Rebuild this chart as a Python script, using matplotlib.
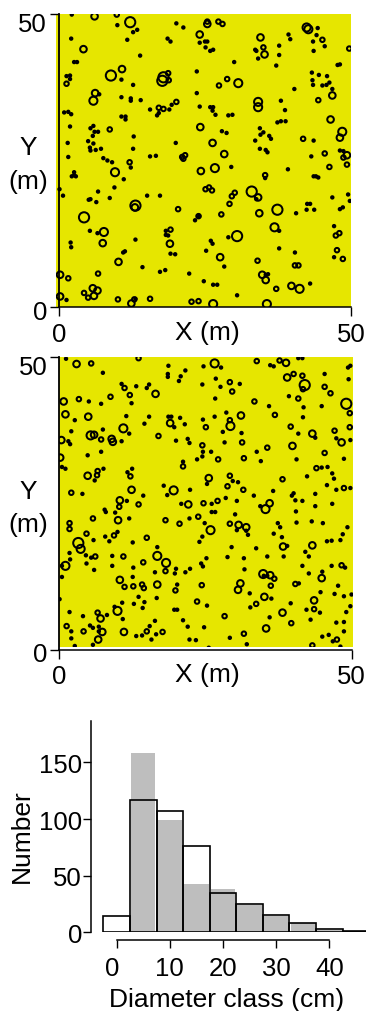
import numpy as np
import matplotlib
matplotlib.use('Agg')
import matplotlib.pyplot as plt
from matplotlib.transforms import ScaledTranslation

plt.rcParams['font.family'] = ['Liberation Sans', 'DejaVu Sans']

W, H = 366, 1012
YELLOW = '#E6E600'
GREY = '#BEBEBE'
FS = 18.5
FS_LABEL = 19

# stem diameter (cm) standing for each size class of the maps
dbh_dot, dbh_small, dbh_mid, dbh_big, dbh_large = 8, 15, 22, 27, 34

# upper map: tree positions (m)
p1_dot = [(2.2,49.9),(10.0,48.1),(20.1,48.4),(21.3,47.7),(2.1,45.8),(11.7,45.6),(12.7,46.9),(13.4,47.3),
 (18.6,45.8),(19.1,45.3),(13.9,42.9),(24.1,45.1),(25.0,45.3),(25.4,45.3),(25.1,44.3),(25.9,43.7),(26.4,43.9),
 (30.0,41.8),(33.8,43.7),(33.6,43.9),(34.1,42.4),(37.7,44.6),(37.7,43.0),(37.2,41.2),(39.3,46.5),(39.6,45.7),
 (44.3,47.6),(44.1,46.4),(43.5,45.3),(45.5,44.5),(43.6,43.7),(47.7,41.3),(48.1,41.4),(2.6,41.8),(3.1,41.8),
 (1.3,39.4),(1.9,39.5),(1.9,38.9),(23.6,40.2),(10.7,38.8),(12.7,37.9),(40.3,37.2),(43.3,40.0),(44.5,39.6),
 (45.9,39.4),(43.4,38.7),(43.5,37.9),(45.1,37.8),(45.8,37.9),(46.3,38.3),(46.8,37.2),(23.6,36.5),(10.7,35.8),
 (12.3,35.6),(12.3,35.2),(14.0,35.3),(6.9,36.3),(15.6,33.7),(19.3,34.5),(16.8,32.7),(17.1,33.1),(18.9,33.7),
 (24.1,34.2),(25.9,34.1),(26.4,34.1),(26.3,33.5),(26.8,32.8),(29.0,32.7),(29.7,32.8),(38.0,35.2),(38.7,33.6),
 (38.0,31.7),(37.4,31.5),(38.8,31.7),(0.9,33.2),(1.6,33.3),(2.1,32.9),(10.7,32.5),(11.4,32.5),(11.4,32.0),
 (1.9,30.8),(5.4,30.5),(5.9,30.9),(6.1,29.9),(6.7,29.9),(5.8,29.2),(34.4,30.5),(34.5,29.4),(35.0,29.8),
 (27.9,30.0),(28.7,29.7),(36.0,29.2),(36.3,28.7),(12.8,29.1),(1.5,28.0),(5.0,28.3),(5.9,27.9),(5.3,27.2),
 (5.4,26.7),(6.3,26.8),(7.2,27.0),(12.7,27.0),(20.0,28.0),(33.6,28.4),(43.6,28.4),(34.4,27.0),(35.4,26.8),
 (35.7,26.4),(1.6,25.6),(7.6,25.4),(8.3,25.0),(9.1,24.7),(15.6,25.7),(16.6,25.8),(43.2,25.7),(48.1,26.7),
 (48.7,26.6),(29.5,23.9),(12.3,23.8),(2.6,23.0),(39.2,23.5),(2.6,22.5),(2.2,22.3),(2.9,22.3),(11.1,21.8),
 (0.1,20.1),(0.7,19.0),(6.7,19.7),(9.5,20.4),(5.4,18.4),(5.1,18.3),(6.4,17.9),(8.7,18.6),(15.1,19.0),(17.3,19.0),
 (33.8,18.4),(46.8,18.7),(49.5,19.2),(49.8,18.1),(48.1,16.7),(48.6,17.0),(40.6,16.0),(43.0,17.6),(42.5,17.6),
 (42.4,16.6),(43.7,16.6),(24.0,15.5),(23.3,14.8),(5.3,13.0),(6.6,12.6),(18.3,13.0),(18.3,12.3),(18.7,12.2),
 (37.7,13.0),(13.1,11.5),(2.0,11.0),(2.1,10.2),(29.0,11.9),(26.0,11.3),(26.3,10.8),(11.3,9.5),(11.0,9.3),
 (25.2,9.6),(37.7,10.0),(40.4,9.3),(19.1,9.1),(19.9,9.0),(47.1,8.5),(14.3,6.8),(28.3,6.9),(17.3,6.0),(18.2,6.3),
 (22.3,5.7),(24.8,4.4),(26.4,3.8),(27.1,3.8),(43.0,4.0),(30.5,2.0),(1.3,1.2),(13.1,1.4),(47.1,13.8),(44.0,22.3),
 (43.6,22.3),(44.4,22.1),(35.4,5.5),(35.8,5.6),(35.3,22.0)]
p1_small = [(25.4,48.7),(9.9,49.9),(27.3,48.7),(28.0,48.3),(35.0,44.3),(45.1,45.6),(49.7,44.1),(18.7,39.9),
 (18.8,38.7),(28.8,38.9),(27.4,37.8),(1.3,38.1),(20.1,35.0),(17.1,34.0),(17.9,33.8),(44.4,35.3),(8.7,30.3),
 (41.8,28.7),(45.5,26.2),(49.3,24.3),(21.1,25.6),(21.6,25.9),(21.3,25.3),(12.1,24.7),(46.3,23.9),(48.7,25.5),
 (25.1,20.1),(25.7,20.4),(26.2,19.9),(30.1,19.5),(29.6,18.9),(29.2,17.6),(20.4,16.7),(27.8,15.8),(23.9,15.5),
 (19.1,13.2),(47.4,12.2),(48.0,12.6),(47.6,9.7),(48.6,8.2),(34.0,7.9),(40.4,7.1),(41.0,7.1),(1.6,4.9),(6.7,5.7),
 (37.2,3.1),(4.3,2.4),(5.0,1.6),(10.1,1.3),(12.9,1.3),(15.6,1.4),(22.7,0.9),(23.9,1.0),(35.3,22.5)]
p1_mid = [(4.2,44.0),(6.1,49.6),(25.4,48.3),(24.1,46.5),(34.5,46.0),(35.2,43.1),(10.8,40.6),(6.2,36.5),(46.8,36.1),
 (24.2,30.7),(46.5,32.0),(48.1,28.9),(26.3,28.0),(28.3,26.1),(49.3,25.9),(24.3,23.2),(34.1,18.7),(13.0,17.0),
 (34.3,16.0),(7.5,10.9),(19.0,10.8),(10.2,7.7),(27.6,8.5),(0.2,5.5),(34.8,5.5),(35.4,4.6),(39.8,3.6),(5.8,3.2),
 (6.6,2.8),(6.0,1.9),(0.2,1.8),(12.4,0.6)]
p1_big = [(42.4,47.7),(42.7,47.4),(30.7,38.2),(5.9,35.2),(34.1,34.1),(48.5,29.9),(26.7,23.7),(9.6,23.0),(7.7,12.8),
 (36.9,13.6),(26.4,0.5),(35.6,0.5),(41.2,3.1),(34.1,35.0)]
p1_large = [(12.2,48.6),(8.9,39.5),(17.9,39.2),(17.7,38.6),(33.0,19.7),(13.1,17.3),(37.4,16.6),(4.3,15.3),(30.5,12.1)]

# lower map: tree positions (m)
p2_dot = [(1.2,49.7),(7.5,47.3),(18.7,48.5),(18.6,47.1),(18.6,46.6),(21.6,47.7),(20.8,46.7),(20.5,45.9),(24.7,48.4),
 (27.7,48.2),(36.1,48.6),(36.7,48.4),(40.9,49.8),(41.6,49.8),(49.8,48.5),(49.4,48.2),(49.5,46.2),(45.4,47.1),
 (10.7,45.4),(13.2,45.0),(15.4,45.3),(15.0,44.7),(24.5,45.3),(26.8,46.3),(27.6,44.9),(30.9,45.4),(26.7,42.9),
 (5.1,42.4),(7.2,42.0),(12.4,42.1),(39.3,43.3),(41.8,41.4),(44.9,41.6),(35.9,41.6),(11.5,39.9),(15.4,39.8),
 (2.7,39.2),(14.6,38.6),(18.7,39.8),(19.2,39.8),(20.7,39.6),(21.5,38.5),(19.7,38.0),(24.6,39.3),(26.6,39.8),
 (28.6,40.5),(41.7,39.7),(2.1,37.3),(7.5,37.6),(28.0,37.2),(31.2,37.0),(40.9,36.9),(12.0,36.9),(10.7,35.6),
 (1.6,35.6),(1.9,35.1),(7.2,33.8),(4.9,33.2),(20.0,35.7),(22.0,36.0),(22.3,35.3),(28.3,35.4),(24.6,33.8),(24.5,33.0),
 (26.0,33.8),(23.6,32.5),(33.8,33.8),(34.5,32.2),(40.6,32.5),(47.4,36.1),(49.8,35.8),(43.8,36.2),(48.7,32.6),
 (21.2,32.1),(0.5,31.2),(1.1,30.9),(7.6,30.9),(12.5,30.9),(11.7,30.3),(6.1,28.9),(25.3,28.3),(29.7,28.8),(30.6,28.6),
 (42.4,29.6),(44.9,31.1),(45.9,31.2),(46.7,30.1),(47.0,29.2),(45.8,28.1),(47.4,27.3),(49.8,27.6),(17.9,28.0),
 (4.0,26.6),(22.4,27.3),(36.6,27.1),(14.4,26.3),(18.5,26.4),(33.3,26.3),(43.8,26.6),(40.1,26.7),(39.8,26.3),
 (11.6,25.4),(20.9,24.9),(26.1,24.9),(30.4,25.4),(28.5,25.9),(40.4,25.5),(41.6,25.4),(34.4,24.5),(43.8,24.5),
 (46.7,24.9),(7.8,23.9),(8.0,23.5),(9.6,23.4),(26.1,23.5),(26.7,23.5),(30.1,23.1),(40.5,23.6),(12.0,22.4),(22.3,22.4),
 (24.9,21.6),(40.6,21.7),(43.2,21.9),(45.1,21.6),(37.4,21.6),(37.8,20.9),(30.4,20.4),(32.0,20.3),(32.3,19.6),
 (49.3,20.9),(48.5,19.7),(48.1,18.7),(46.6,18.6),(45.8,18.5),(36.7,19.8),(38.1,19.2),(7.9,19.3),(10.0,20.1),
 (8.6,18.5),(5.9,18.7),(24.5,19.3),(24.0,18.4),(12.6,18.3),(29.5,17.5),(33.7,17.3),(39.0,17.7),(16.8,17.5),
 (42.1,16.7),(42.7,15.9),(38.4,15.9),(35.6,15.9),(1.8,16.5),(4.6,16.1),(5.5,15.7),(9.1,16.0),(28.8,15.8),(31.6,15.6),
 (25.2,15.6),(1.9,15.4),(4.7,14.7),(9.1,14.3),(6.0,13.6),(24.3,14.7),(24.6,14.2),(22.4,13.8),(21.6,13.2),(20.0,13.8),
 (19.8,13.0),(16.4,13.2),(12.7,14.0),(12.6,12.4),(31.7,13.7),(35.0,12.6),(35.6,12.6),(41.6,14.3),(42.7,13.0),
 (45.0,13.3),(46.6,14.3),(48.9,14.0),(41.0,11.3),(20.2,11.1),(47.7,10.9),(32.6,9.6),(36.3,8.7),(44.7,9.8),(47.1,9.5),
 (48.7,9.1),(50.0,9.4),(0.1,8.6),(16.7,8.8),(13.6,9.0),(14.6,8.1),(12.8,7.8),(10.8,8.0),(14.3,7.1),(25.3,7.5),(32.7,7.2),
 (39.6,7.9),(49.8,7.4),(42.3,6.8),(44.6,6.3),(49.1,6.4),(1.8,6.4),(4.1,5.7),(9.5,7.3),(19.7,6.8),(20.2,6.8),(8.2,5.9),
 (36.0,5.5),(10.9,5.2),(21.2,5.0),(16.4,4.9),(43.0,5.1),(47.4,4.6),(48.7,4.7),(48.7,3.1),(24.8,3.8),(22.0,3.9),(5.3,4.1),
 (5.8,3.7),(6.8,3.9),(6.8,3.1),(15.5,4.0),(2.1,3.1),(13.2,2.3),(14.2,2.4),(16.6,2.6),(15.8,1.7),(2.1,1.9),(2.7,0.6),
 (5.8,0.8),(22.3,1.7),(23.4,1.6),(29.2,2.0),(32.1,0.9),(45.0,2.2),(46.1,2.5),(46.8,1.4),(48.1,0.5),(25.6,0.3),
 (0.5,14.3),(0.5,12.4)]
p2_small = [(5.5,48.9),(13.6,49.8),(33.8,49.3),(37.7,49.4),(40.1,47.1),(41.6,46.8),(29.2,45.7),(29.6,44.1),(11.2,44.7),
 (3.4,42.8),(8.8,43.2),(12.1,43.5),(33.4,42.4),(40.9,42.9),(41.7,44.5),(45.4,44.9),(46.4,43.8),(36.9,40.1),(49.7,40.4),
 (25.1,38.0),(39.6,38.1),(47.1,37.4),(49.7,38.0),(17.0,36.5),(24.5,34.9),(31.3,35.4),(35.6,34.5),(27.2,32.5),(31.6,32.7),
 (45.4,33.6),(6.6,30.5),(6.5,29.8),(12.2,29.6),(21.2,31.3),(44.0,31.0),(29.2,29.7),(38.2,29.1),(28.8,27.9),(31.5,27.3),
 (48.7,27.6),(2.1,26.8),(27.1,25.4),(24.7,25.0),(13.6,24.8),(10.3,24.4),(23.8,22.7),(5.8,22.4),(18.2,22.1),(29.2,39.2),
 (7.2,35.9),(1.8,21.6),(1.8,20.6),(20.6,21.5),(4.7,19.8),(9.4,19.5),(15.0,19.1),(6.2,15.9),(11.0,15.9),(14.4,14.9),
 (18.2,13.4),(11.2,10.7),(12.7,10.8),(14.5,10.5),(14.2,11.1),(19.9,10.1),(24.4,11.0),(23.6,8.2),(36.2,10.9),(36.8,12.1),
 (40.4,11.2),(48.3,14.4),(28.3,5.7),(43.6,6.9),(33.7,7.8),(39.7,4.5),(6.6,6.3),(1.3,4.0),(4.2,3.1),(15.0,3.1),(17.7,3.0),
 (31.6,2.7),(43.3,0.7),(47.5,1.7),(29.2,21.5)]
p2_mid = [(3.0,48.8),(0.8,42.4),(1.1,40.2),(5.0,39.8),(31.1,40.0),(19.0,38.7),(6.0,36.7),(9.0,36.0),(9.2,35.5),(0.4,35.8),
 (0.2,32.8),(43.3,36.9),(48.3,35.4),(39.9,34.8),(16.5,43.7),(38.8,49.0),(39.0,46.5),(25.6,29.3),(4.9,29.7),(12.4,27.3),
 (10.4,25.5),(22.1,24.8),(36.0,25.0),(10.1,22.1),(16.8,11.1),(31.0,11.3),(30.6,10.2),(35.1,9.0),(38.2,6.3),(43.6,8.4),
 (11.1,3.0),(7.4,3.0),(6.7,1.7),(7.1,5.3),(35.4,3.6),(44.9,12.2),(38.3,17.6),(43.3,17.8),(32.0,20.9),(30.7,21.3),(36.1,12.7),
 (10.4,11.9)]
p2_big = [(26.6,48.9),(11.0,37.8),(5.4,36.6),(29.3,38.2),(19.6,27.2),(35.3,24.0),(25.9,20.4),(3.7,17.2),(16.8,16.0),(18.3,14.8),
 (1.1,14.3),(10.0,6.6),(34.9,12.9)]
p2_large = [(42.0,45.2),(49.1,42.0),(3.3,18.2)]

map_ticks = [0, 50]

# histogram
class_mid = [0, 5, 10, 15, 20, 25, 30, 35, 40, 45]
number_outline = [14, 117, 107, 76, 35, 25, 15, 8, 3, 1]
class_grey = [5, 10, 15, 20, 25, 30, 35, 40]
number_grey = [158, 99, 43, 38, 24, 14, 8, 2]
hist_xticks = [0, 10, 20, 30, 40]
hist_yticks = [0, 50, 100, 150]


def rect(left, top, right, bottom):
    return [left / W, 1 - bottom / H, (right - left) / W, (bottom - top) / H]


def px_text(x, y, s):
    fig.text(x / W, 1 - y / H, s, ha='center', va='center', fontsize=FS_LABEL)


def shift(label, dx, dy):
    # nudge a tick label by some pixels
    label.set_transform(label.get_transform() + ScaledTranslation(dx / 100, -dy / 100, fig.dpi_scale_trans))


def draw_map(ax, classes, xlim):
    ax.set_facecolor(YELLOW)
    for pts, dbh in classes:
        xy = np.array(pts)
        # marker size scales with the stem diameter
        d_pt = 0.3 * dbh * 72 / 100
        ax.scatter(xy[:, 0], xy[:, 1], s=d_pt ** 2, facecolors='none', edgecolors='black', linewidths=1.45, zorder=2)
    ax.set_xlim(*xlim)
    ax.set_ylim(0, 50)
    for s in ['top', 'right']:
        ax.spines[s].set_visible(False)
    ax.spines['bottom'].set_bounds(0, 50)
    ax.spines['left'].set_position(('data', 0))
    ax.spines['left'].set_linewidth(1.3)
    ax.spines['bottom'].set_linewidth(1.1)
    ax.spines['left'].set_zorder(5)
    ax.spines['bottom'].set_zorder(5)
    ax.set_xticks(map_ticks)
    ax.set_yticks(map_ticks)
    ax.tick_params(length=6.5, width=1.0, labelsize=FS, pad=2)
    ax.tick_params(axis='x', pad=4)
    ylabels = ax.yaxis.get_ticklabels()
    ylabels[1].set_va('top')
    shift(ylabels[1], 0, -1.5)
    shift(ylabels[0], 0, 2.5)


fig = plt.figure(figsize=(W / 100, H / 100), dpi=100)

ax1 = fig.add_axes(rect(56, 15, 351.3, 308))
draw_map(ax1, [(p1_dot, dbh_dot), (p1_small, dbh_small), (p1_mid, dbh_mid), (p1_big, dbh_big), (p1_large, dbh_large)], (-0.5, 50.05))
px_text(28, 148, 'Y')
px_text(28, 182, '(m)')
px_text(207, 333, 'X (m)')

ax2 = fig.add_axes(rect(59, 358, 352.7, 650.5))
draw_map(ax2, [(p2_dot, dbh_dot), (p2_small, dbh_small), (p2_mid, dbh_mid), (p2_big, dbh_big), (p2_large, dbh_large)], (0, 50.2))
ax2.axhspan(0, 0.35, fc='white', ec='none', zorder=3)
px_text(28, 492, 'Y')
px_text(28, 525, '(m)')
px_text(207, 675, 'X (m)')

ax3 = fig.add_axes(rect(91, 722, 366, 933.3))
ax3.bar(class_grey, number_grey, width=4.6, color=GREY, zorder=1)
ax3.bar(class_mid, number_outline, width=5, facecolor='none', edgecolor='black', linewidth=1.2, zorder=2)
ax3.bar([0], [number_outline[0]], width=5, color='white', zorder=0)
ax3.set_xlim(-4.83, 46.9)
ax3.set_ylim(0, 186.5)
for s in ['top', 'right']:
    ax3.spines[s].set_visible(False)
ax3.spines['bottom'].set_position(('outward', 5.3))
ax3.spines['bottom'].set_bounds(0, 40)
for s in ['left', 'bottom']:
    ax3.spines[s].set_linewidth(1.1)
ax3.set_xticks(hist_xticks)
ax3.set_yticks(hist_yticks)
ax3.tick_params(length=5.5, width=1.0, labelsize=FS, pad=6)
ax3.tick_params(axis='y', pad=1)
shift(ax3.xaxis.get_ticklabels()[0], -4, 0)
px_text(227, 1000, 'Diameter class (cm)')
fig.text(22 / W, 1 - 836 / H, 'Number', rotation=90, ha='center', va='center', fontsize=FS_LABEL)

fig.savefig('out.png', dpi=100)
